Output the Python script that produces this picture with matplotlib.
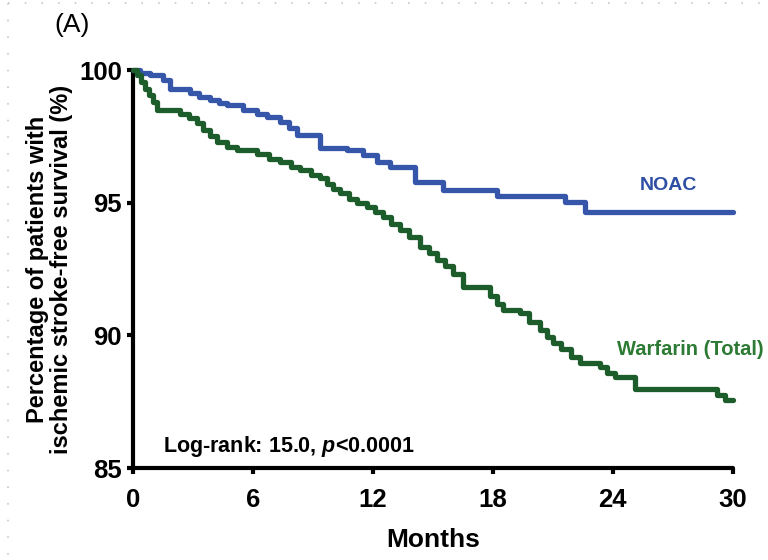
import matplotlib
matplotlib.use("Agg")
import matplotlib.pyplot as plt
from matplotlib.lines import Line2D

plt.rcParams['font.family'] = ['Liberation Sans', 'DejaVu Sans']
plt.rcParams['mathtext.fontset'] = 'custom'
plt.rcParams['mathtext.it'] = 'Liberation Sans:italic:bold'
plt.rcParams['mathtext.rm'] = 'Liberation Sans:bold'

# Kaplan-Meier estimates (months, % ischemic stroke-free)
noac_t = [0, 0.35, 0.85, 1.5, 1.85, 2.85, 3.3, 3.85, 4.3, 4.7, 5.5, 6.2, 6.7,
          7.35, 7.8, 8.2, 9.35, 10.7, 11.5, 12.2, 12.85, 14.1, 15.5, 18.2,
          21.6, 22.6, 30]
noac_s = [100, 99.9, 99.8, 99.62, 99.28, 99.15, 99.0, 98.87, 98.75, 98.68,
          98.49, 98.35, 98.23, 98.04, 97.8, 97.55, 97.06, 96.98, 96.8, 96.53,
          96.34, 95.78, 95.48, 95.25, 95.02, 94.65, 94.65]

warf_t = [0, 0.2, 0.4, 0.6, 0.8, 1.0, 1.2, 2.35, 2.8, 3.2, 3.5, 3.85, 4.2, 4.7,
          5.2, 6.2, 6.8, 7.35, 7.9, 8.35, 8.9, 9.35, 9.7, 10.0, 10.35, 10.8,
          11.2, 11.7, 12.1, 12.5, 12.9, 13.35, 13.8, 14.35, 14.8, 15.2, 15.6,
          16.0, 16.5, 17.85, 18.2, 18.5, 19.35, 19.8, 20.35, 20.7, 21.0, 21.4,
          21.9, 22.35, 23.35, 23.7, 24.1, 25.1, 29.2, 29.6, 30]
warf_s = [100, 99.8, 99.55, 99.3, 99.05, 98.8, 98.5, 98.35, 98.19, 98.0, 97.74,
          97.5, 97.3, 97.1, 96.98, 96.85, 96.65, 96.53, 96.35, 96.23, 96.05,
          95.93, 95.7, 95.5, 95.36, 95.15, 95.0, 94.84, 94.65, 94.46, 94.2,
          93.97, 93.7, 93.33, 93.1, 92.85, 92.6, 92.3, 91.82, 91.5, 91.2,
          90.95, 90.84, 90.5, 90.2, 89.94, 89.71, 89.5, 89.2, 88.96, 88.81,
          88.6, 88.43, 88.0, 87.75, 87.56, 87.56]

x_ticks = [0, 6, 12, 18, 24, 30]
y_ticks = [85, 90, 95, 100]

blue = '#3656aa'
green = '#1d5c2b'

fig = plt.figure(figsize=(7.68, 5.6), dpi=100)
ax = fig.add_axes([0.173, 0.164, 0.781, 0.711])

ax.plot(noac_t, noac_s, drawstyle='steps-post', color=blue, lw=3.8,
        solid_capstyle='round', clip_on=False, zorder=3)
ax.plot(warf_t, warf_s, drawstyle='steps-post', color=green, lw=3.8,
        solid_capstyle='round', clip_on=False, zorder=3)

ax.set_xlim(0, 30)
ax.set_ylim(85, 100)
ax.set_xticks(x_ticks)
ax.set_yticks(y_ticks)
ax.set_xticklabels([str(v) for v in x_ticks], fontsize=18.5, fontweight='bold')
ax.set_yticklabels([str(v) for v in y_ticks], fontsize=18.5, fontweight='bold')

for side in ['top', 'right']:
    ax.spines[side].set_visible(False)
for side in ['left', 'bottom']:
    ax.spines[side].set_linewidth(3)
    ax.spines[side].set_capstyle('round')
ax.tick_params(direction='out', length=4, width=3)
ax.tick_params(axis='x', pad=10)
ax.tick_params(axis='y', pad=4)

ax.set_xlabel('Months', fontsize=19, fontweight='bold', labelpad=12)
ax.set_ylabel('Percentage of patients with\nischemic stroke-free survival (%)',
              fontsize=17, fontweight='bold', labelpad=4, linespacing=1.1)

ax.text(26.8, 95.65, 'NOAC', color='#2e4fa3', fontsize=14, fontweight='bold',
        ha='center', va='center')
ax.text(27.9, 89.48, 'Warfarin (Total)', color='#2c7a33', fontsize=14.5,
        fontweight='bold', ha='center', va='center')
ax.text(1.5, 85.8, r'Log-rank: 15.0, $\mathit{p}$<0.0001', fontsize=15.5,
        fontweight='bold', ha='left', va='center')

fig.text(0.094, 0.955, '(A)', fontsize=19, ha='center', va='center')

# dotted frame along the image edge
fig.add_artist(Line2D([0.011, 0.011], [0.995, 0.0], transform=fig.transFigure,
                      color='#c8c8c8', lw=1.2, ls=(0, (1, 9))))
fig.add_artist(Line2D([0.011, 1.0], [0.995, 0.995], transform=fig.transFigure,
                      color='#c8c8c8', lw=1.2, ls=(0, (1, 9))))

fig.savefig('out.png', dpi=100)
